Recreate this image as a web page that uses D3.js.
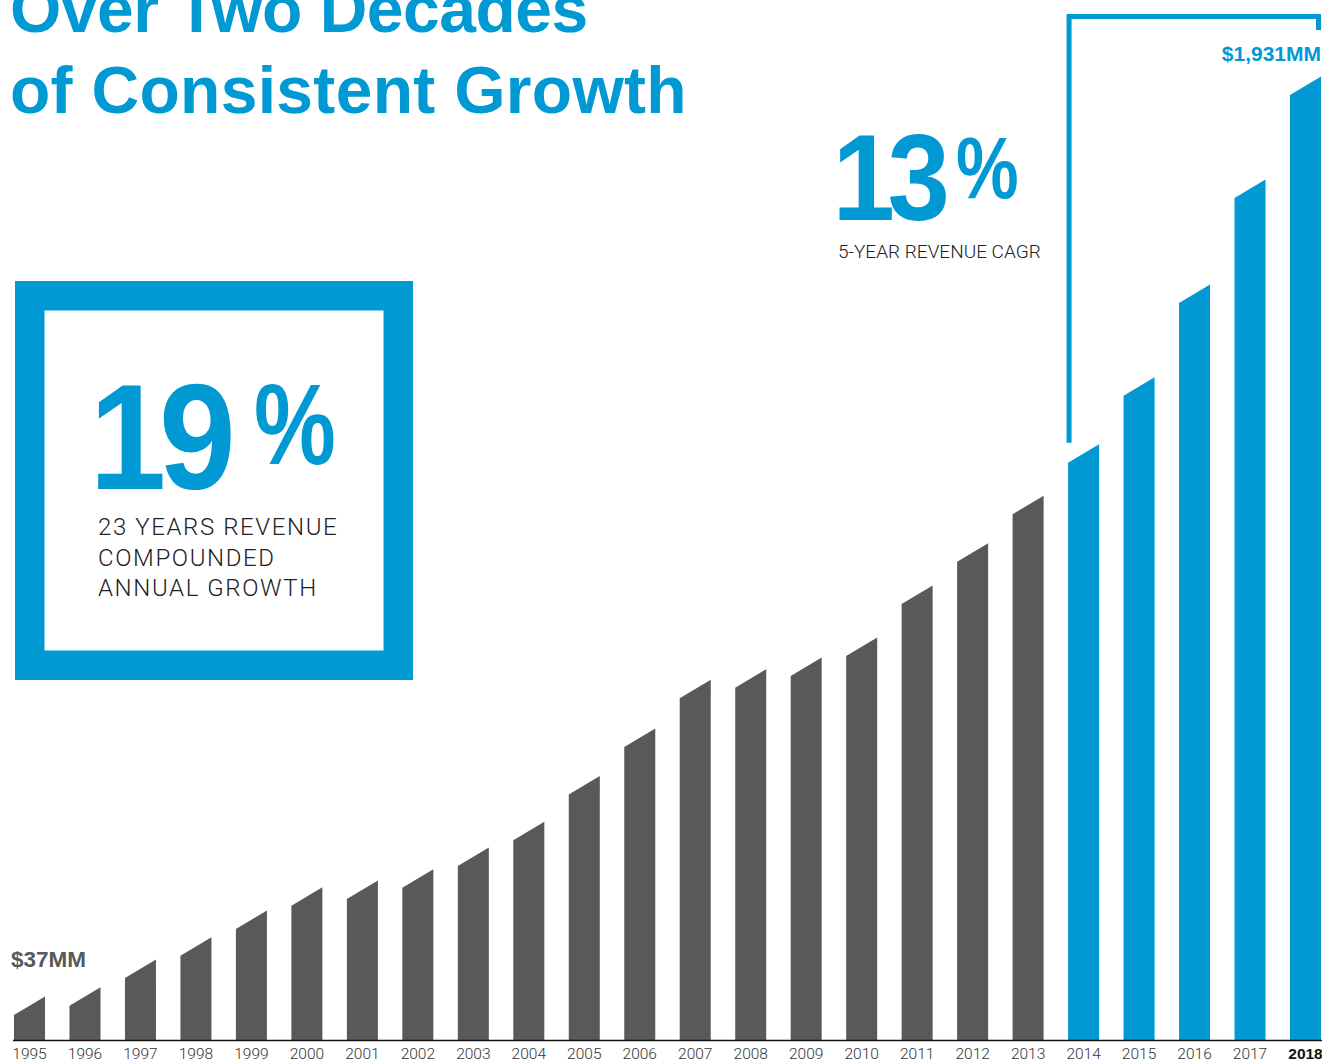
<!DOCTYPE html>
<html>
<head>
<meta charset="utf-8">
<script src="https://cdn.jsdelivr.net/npm/d3@7"></script>
<style>
  body { margin: 0; background: #fff; }
  svg { display: block; }
  .heavy { font-family: "Liberation Sans", Arial, sans-serif; font-weight: bold; }
  .light { font-family: Roboto, "Liberation Sans", sans-serif; font-weight: 300; }
</style>
</head>
<body>
<div id="chart"></div>
<script>
// Revenue, $MM
var years = [1995, 1996, 1997, 1998, 1999, 2000, 2001, 2002, 2003, 2004, 2005, 2006,
             2007, 2008, 2009, 2010, 2011, 2012, 2013, 2014, 2015, 2016, 2017, 2018];
var revenue = [37, 56, 113, 159, 214, 262, 276, 299, 344, 397, 491, 589,
               689, 711, 735, 776, 883, 970, 1068, 1174, 1312, 1503, 1719, 1931];
var titleLines = ["Over Two Decades", "of Consistent Growth"];
var longCagr = "19";
var longCagrText = ["23 YEARS REVENUE", "COMPOUNDED", "ANNUAL GROWTH"];
var shortCagr = "13";
var shortCagrText = "5-YEAR REVENUE CAGR";
var firstLabel = "$37MM";
var lastLabel = "$1,931MM";
var cagrStart = 2014;

var data = years.map(function(y, i) { return {year: y, value: revenue[i]}; });

var width = 1322,
    height = 1062,
    baseline = 1040,
    slant = 18.5,
    blue = "#0099d3",
    gray = "#58595b";

var svg = d3.select("#chart").append("svg")
    .attr("width", width)
    .attr("height", height);

var xScale = d3.scaleBand()
    .domain(years)
    .range([14, 1321])
    .paddingInner(0.441)
    .paddingOuter(0);

var yScale = d3.scaleLinear()
    .domain([0, 1931])
    .range([baseline - 7, baseline - 945]);

// slanted-top bars
svg.selectAll(".bar")
    .data(data)
    .enter().append("path")
    .attr("class", "bar")
    .attr("fill", function(d) { return d.year >= cagrStart ? blue : gray; })
    .attr("d", function(d) {
        var x0 = xScale(d.year), x1 = x0 + xScale.bandwidth(), yl = yScale(d.value);
        return "M" + x0 + "," + baseline + "V" + yl + "L" + x1 + "," + (yl - slant) + "V" + baseline + "Z";
    });

// baseline + year labels
var xAxis = d3.axisBottom(xScale).tickSize(0).tickPadding(10);
var axisG = svg.append("g")
    .attr("transform", "translate(0," + baseline + ")")
    .call(xAxis);
axisG.select(".domain").remove();
axisG.append("line")
    .attr("x1", 13).attr("x2", 1322)
    .attr("y1", 0.5).attr("y2", 0.5)
    .attr("stroke", "#111")
    .attr("stroke-width", 1.6);
axisG.selectAll(".tick text")
    .attr("class", function(d) { return d === 2018 ? "heavy" : "light"; })
    .attr("y", 19)
    .attr("dy", null)
    .style("font-size", "15.5px")
    .attr("fill", function(d) { return d === 2018 ? "#111" : "#333"; });

// title
svg.selectAll(".title")
    .data(titleLines)
    .enter().append("text")
    .attr("class", "title heavy")
    .attr("x", 10)
    .attr("y", function(d, i) { return 32 + i * 81; })
    .attr("fill", blue)
    .style("font-size", "66px")
    .style("letter-spacing", function(d, i) { return i === 0 ? "-0.5px" : "0.3px"; })
    .text(function(d) { return d; });

// 5-year bracket
var lastYear = years[years.length - 1];
var bx0 = xScale(cagrStart) + 1,
    bx1 = xScale(lastYear) + xScale.bandwidth() - 2.5,
    by0 = yScale(revenue[years.indexOf(cagrStart)]) - 20;
svg.append("path")
    .attr("d", "M" + bx0 + "," + by0 + "V16.5H" + bx1 + "V30")
    .attr("fill", "none")
    .attr("stroke", blue)
    .attr("stroke-width", 5)
    .attr("stroke-linejoin", "miter");

svg.append("text")
    .attr("class", "heavy")
    .attr("x", xScale(lastYear) + xScale.bandwidth())
    .attr("y", 61)
    .attr("text-anchor", "end")
    .attr("fill", blue)
    .style("font-size", "21px")
    .text(lastLabel);

svg.append("text")
    .attr("class", "heavy")
    .attr("x", 11)
    .attr("y", 967)
    .attr("fill", gray)
    .style("font-size", "22.5px")
    .text(firstLabel);

// big percentage: slightly narrowed digits plus a smaller, raised % sign
function bigPercent(num, x, y, size, pctX, pctY, pctSize) {
    svg.append("text")
        .attr("class", "heavy")
        .attr("transform", "translate(" + x + "," + y + ") scale(0.92,1)")
        .attr("fill", blue)
        .style("font-size", size + "px")
        .style("letter-spacing", "-8px")
        .text(num);
    svg.append("text")
        .attr("class", "heavy")
        .attr("transform", "translate(" + pctX + "," + pctY + ") scale(0.8,1)")
        .attr("fill", blue)
        .style("font-size", pctSize + "px")
        .text("%");
}

// 13% callout
bigPercent(shortCagr, 832.5, 220, 122, 956, 198, 88);

svg.append("text")
    .attr("class", "light")
    .attr("x", 838)
    .attr("y", 258)
    .attr("fill", "#222")
    .style("font-size", "19px")
    .text(shortCagrText);

// 19% box
svg.append("rect")
    .attr("x", 29.75).attr("y", 295.75)
    .attr("width", 368.5).attr("height", 369.5)
    .attr("fill", "none")
    .attr("stroke", blue)
    .attr("stroke-width", 29.5);

bigPercent(longCagr, 89.5, 489, 150, 254, 464, 115);

svg.selectAll(".boxline")
    .data(longCagrText)
    .enter().append("text")
    .attr("class", "boxline light")
    .attr("x", 98)
    .attr("y", function(d, i) { return 535 + i * 30.5; })
    .attr("fill", "#222")
    .style("font-size", "24px")
    .style("letter-spacing", "1.6px")
    .text(function(d) { return d; });
</script>
</body>
</html>
